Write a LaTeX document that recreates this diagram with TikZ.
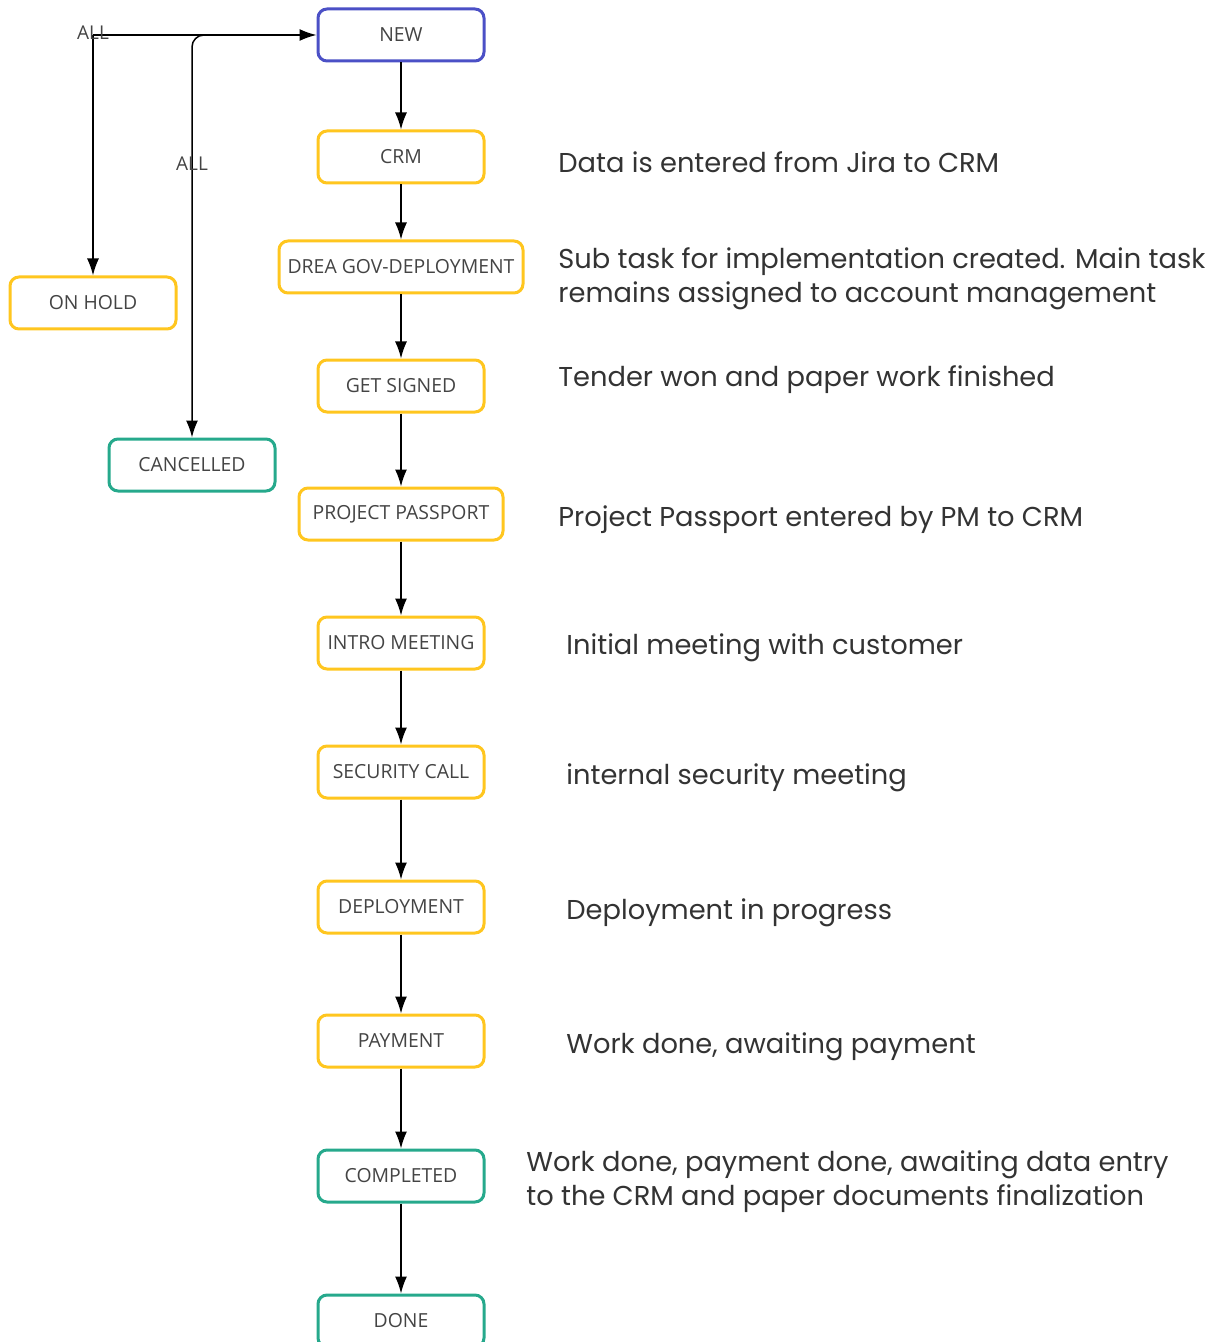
\documentclass[tikz,border=0pt]{standalone}
\usepackage{fontspec}
\setmainfont{Open Sans}
\newfontfamily\notefont{Poppins}
\usetikzlibrary{arrows.meta}
\definecolor{stYellow}{HTML}{FFC61F}
\definecolor{stBlue}{HTML}{4B50C6}
\definecolor{stTeal}{HTML}{26A98C}
\definecolor{boxText}{HTML}{444444}
\definecolor{noteText}{HTML}{333333}
\tikzset{
  state/.style={draw=#1, line width=1.5pt, rounded corners=4.5pt, fill=white,
    minimum width=83pt, minimum height=26pt, inner sep=2pt,
    text=boxText, font=\fontsize{9.7}{11}\selectfont},
  flow/.style={-{Latex[length=8.5pt,width=6pt]}, line width=0.75pt, black},
  note/.style={anchor=west, align=left, text=noteText,
    font=\notefont\fontsize{13.65}{17}\selectfont, inner sep=0pt},
  lbl/.style={text=boxText, font=\fontsize{9.5}{11}\selectfont, inner sep=0pt}
}
\begin{document}
\begin{tikzpicture}[x=0.5pt,y=-0.5pt]
\useasboundingbox (0,0) rectangle (1224,1342);
% states of the main flow
\node[state=stBlue]   (new)  at (401,35)   {NEW};
\node[state=stYellow] (crm)  at (401,157)  {CRM};
\node[state=stYellow, minimum width=122pt] (drea) at (401,267) {DREA GOV-DEPLOYMENT};
\node[state=stYellow] (sign) at (401,386)  {GET SIGNED};
\node[state=stYellow, minimum width=102pt] (pass) at (401,514) {PROJECT PASSPORT};
\node[state=stYellow] (intro) at (401,643) {INTRO MEETING};
\node[state=stYellow] (sec)  at (401,772)  {SECURITY CALL};
\node[state=stYellow] (dep)  at (401,907)  {DEPLOYMENT};
\node[state=stYellow] (pay)  at (401,1041) {PAYMENT};
\node[state=stTeal]   (comp) at (401,1176) {COMPLETED};
\node[state=stTeal]   (done) at (401,1321) {DONE};
% side states
\node[state=stYellow] (hold) at (93,303)  {ON HOLD};
\node[state=stTeal]   (canc) at (192,465) {CANCELLED};
% main flow arrows
\draw[flow] (new) -- (crm);
\draw[flow] (crm) -- (drea);
\draw[flow] (drea) -- (sign);
\draw[flow] (sign) -- (pass);
\draw[flow] (pass) -- (intro);
\draw[flow] (intro) -- (sec);
\draw[flow] (sec) -- (dep);
\draw[flow] (dep) -- (pay);
\draw[flow] (pay) -- (comp);
\draw[flow] (comp) -- (done);
% transitions from any state
\coordinate (allA) at (93,35);
\coordinate (allB) at (240,35);
\draw[flow] (allA) -- (new.west);
\draw[flow] (allA) -- (hold.north);
\draw[flow, rounded corners=6pt] (allB) -- (canc.north |- allB) -- (canc.north);
\node[lbl] (lallA) at (93,33) {ALL};
\node[lbl] (lallB) at (192,164) {ALL};
% descriptions
\node[note] (n1) at (558,162) {Data is entered from Jira to CRM};
\node[note] (n2) at (558,279) {Sub task for implementation created. Main task\\remains assigned to account management};
\node[note] (n3) at (558,380) {Tender won and paper work finished};
\node[note] (n4) at (558,520) {Project Passport entered by PM to CRM};
\node[note] (n5) at (566,648) {Initial meeting with customer};
\node[note] (n6) at (566,778) {internal security meeting};
\node[note] (n7) at (566,913) {Deployment in progress};
\node[note] (n8) at (566,1047) {Work done, awaiting payment};
\node[note] (n9) at (526,1182) {Work done, payment done, awaiting data entry\\to the CRM and paper documents finalization};
\end{tikzpicture}
\end{document}
